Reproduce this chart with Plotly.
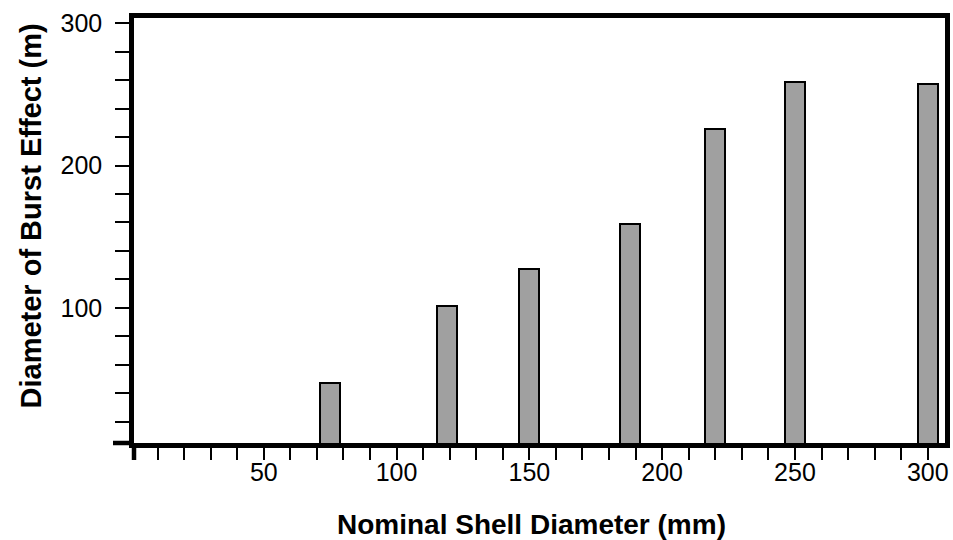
import plotly.graph_objects as go

# Data
shell_diameter_mm = [75, 119, 150, 188, 220, 250, 300]
burst_diameter_m = [47, 101, 127, 159, 226, 259, 257]

x_tick_values = list(range(0, 301, 10))
x_tick_labels = [str(v) if (v % 50 == 0 and v > 0) else "" for v in x_tick_values]
y_tick_values = list(range(20, 301, 20))
y_tick_labels = [str(v) if v % 100 == 0 else "" for v in y_tick_values]

x_title = "Nominal Shell Diameter (mm)"
y_title = "Diameter of Burst Effect (m)"

FONT = "Liberation Sans, Arial, Helvetica, sans-serif"

fig = go.Figure()
fig.add_trace(go.Bar(
    x=shell_diameter_mm,
    y=burst_diameter_m,
    width=7.5,
    marker=dict(color="#a0a0a0", line=dict(color="black", width=2)),
    showlegend=False,
))

fig.update_layout(
    width=953, height=540,
    margin=dict(l=134, r=8, t=18, b=97, pad=0, autoexpand=False),
    paper_bgcolor="white", plot_bgcolor="white",
    font=dict(family=FONT, color="black", size=25),
    bargap=0,
)

fig.update_xaxes(
    range=[1.13, 306.5],
    tickmode="array", tickvals=x_tick_values, ticktext=x_tick_labels,
    ticks="outside", ticklen=12, tickwidth=2, tickcolor="black",
    showline=True, linewidth=4.5, linecolor="black", mirror=True,
    showgrid=False, zeroline=False, automargin=False,
    tickfont=dict(size=25),
    ticklabelstandoff=-9,
)
fig.update_yaxes(
    range=[5.0, 303.7],
    tickmode="array", tickvals=y_tick_values, ticktext=y_tick_labels,
    ticks="outside", ticklen=14, tickwidth=2, tickcolor="black",
    showline=True, linewidth=4.5, linecolor="black", mirror=True,
    showgrid=False, zeroline=False, automargin=False,
    tickfont=dict(size=25),
    ticklabelstandoff=8,
)

# axis titles
fig.add_annotation(text=f"<b>{x_title}</b>", xref="paper", yref="paper",
                   x=0.5, y=0, xanchor="center", yanchor="middle",
                   xshift=-8, yshift=-81, showarrow=False,
                   font=dict(size=28, family=FONT, color="black"))
fig.add_annotation(text=f"<b>{y_title}</b>", xref="paper", yref="paper",
                   x=0, y=0.5, xanchor="center", yanchor="middle",
                   xshift=-104, yshift=14, textangle=-90, showarrow=False,
                   font=dict(size=29, family=FONT, color="black"))

# baseline extension to the left and axis extension below the corner
fig.add_shape(type="line", xref="paper", yref="paper",
              xsizemode="pixel", xanchor=0, x0=-21, x1=0, y0=0, y1=0,
              line=dict(color="black", width=4.5))
fig.add_shape(type="line", xref="paper", yref="paper",
              ysizemode="pixel", yanchor=0, y0=-17, y1=0, x0=0, x1=0,
              line=dict(color="black", width=4.5))

fig.write_html(
    "out.html",
    config={"displayModeBar": False},
    post_script="document.body.style.margin='0';document.body.style.overflow='hidden';",
)
